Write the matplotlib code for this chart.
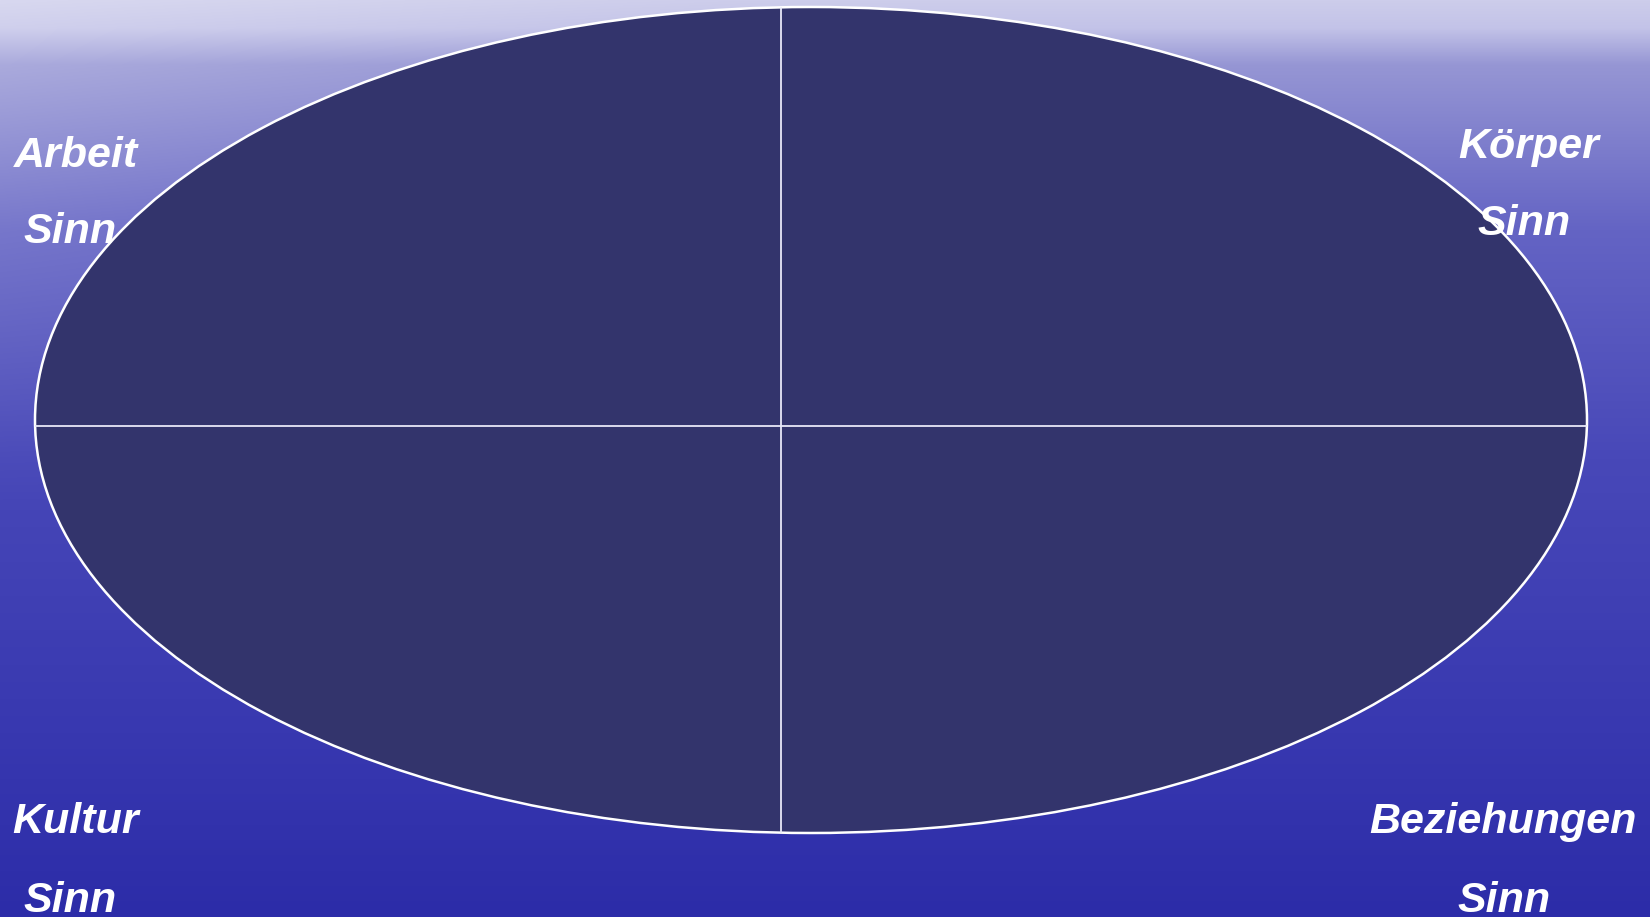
import numpy as np
import matplotlib.pyplot as plt
from matplotlib.patches import Ellipse

# canvas in pixels
W, H = 1650, 917

# ellipse geometry (pixel space)
ell_center = (811, 420)
ell_width = 1552
ell_height = 826
cross_x = 781
cross_y = 426

# labels: text, x centre, baseline y
labels = ['Arbeit', 'Sinn', 'Körper', 'Sinn', 'Kultur', 'Sinn', 'Beziehungen', 'Sinn']
label_x = [76, 70, 1529, 1524, 76, 70, 1503, 1504]
label_y = [167, 243, 158, 235, 833, 912, 833, 912]

# background gradient colour stops (top -> bottom)
stop_pos = [0.0, 0.03, 0.07, 0.25, 0.5, 0.8, 1.0]
stop_col = np.array([[205, 205, 235], [195, 195, 232], [150, 150, 212],
                     [100, 100, 196], [72, 72, 184], [56, 56, 176], [44, 44, 168]]) / 255

yy = np.linspace(0, 1, H)
xx = np.linspace(0, 1, W)
base = np.stack([np.interp(yy, stop_pos, stop_col[:, c]) for c in range(3)], axis=1)
img = np.repeat(base[:, None, :], W, axis=1)
# lighter haze on the left, fading downwards
haze = np.outer(np.clip(1 - yy / 0.55, 0, 1), np.clip(1 - xx / 0.45, 0, 1)) * 0.22
img = img + haze[:, :, None] * (1 - img)
img = np.clip(img, 0, 1)

fig = plt.figure(figsize=(16.5, 9.17), dpi=100)
ax = fig.add_axes([0, 0, 1, 1])
ax.imshow(img, extent=[0, W, H, 0], aspect='auto', zorder=0)

ell = Ellipse(ell_center, ell_width, ell_height, facecolor='#33346c',
              edgecolor='white', linewidth=1.8, zorder=2)
ax.add_patch(ell)

# cross lines clipped to the ellipse
top = ell_center[1] - ell_height / 2
bottom = ell_center[1] + ell_height / 2
vline, = ax.plot([cross_x, cross_x], [top, bottom], color='#e8e8f8', lw=1.3, zorder=3)
hline, = ax.plot([ell_center[0] - ell_width / 2, ell_center[0] + ell_width / 2],
                 [cross_y, cross_y], color='#e8e8f8', lw=1.3, zorder=3)
vline.set_clip_path(ell)
hline.set_clip_path(ell)

for t, x, y in zip(labels, label_x, label_y):
    ax.text(x, y, t, ha='center', va='baseline', color='white', fontsize=31,
            fontweight='bold', fontstyle='italic', family='Liberation Sans', zorder=4)

ax.set_xlim(0, W)
ax.set_ylim(H, 0)
ax.axis('off')
fig.savefig('out.png', dpi=100)
